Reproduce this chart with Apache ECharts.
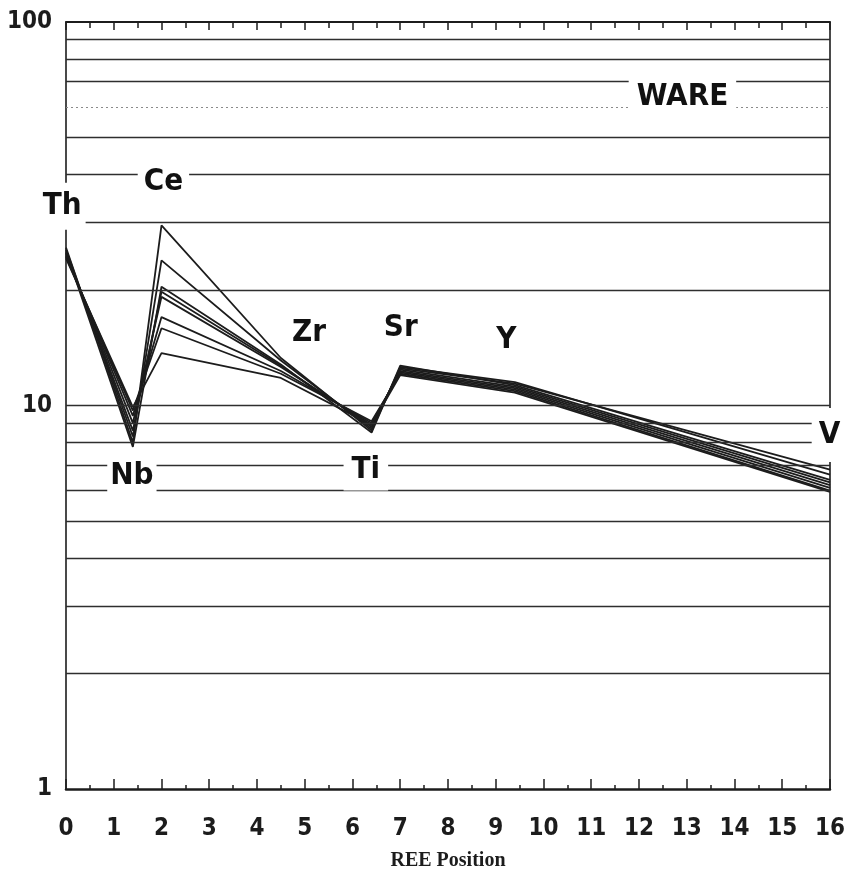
<!DOCTYPE html>
<html>
<head>
<meta charset="utf-8">
<script src="https://cdn.jsdelivr.net/npm/echarts@6/dist/echarts.min.js"></script>
<style>
  html, body { margin: 0; padding: 0; background: #fff; }
  #chart { width: 848px; height: 876px; }
</style>
</head>
<body>
<div id="chart"></div>
<script>
// Element order and their positions along the REE axis
const elements = ['Th', 'Nb', 'Ce', 'Zr', 'Ti', 'Sr', 'Y', 'V'];
const reePositions = [0, 1.4, 2, 4.5, 6.4, 7, 9.4, 16];

// Normalised abundances, one array per sample
const sample1 = [25.8, 8.0, 29.5, 13.3, 8.6, 12.6, 11.5, 6.6];
const sample2 = [25.5, 8.3, 23.9, 13.1, 8.7, 12.5, 11.4, 6.8];
const sample3 = [25.2, 7.8, 20.4, 12.8, 8.5, 12.7, 11.3, 6.4];
const sample4 = [25.0, 8.6, 19.8, 12.7, 8.8, 12.4, 11.2, 6.3];
const sample5 = [24.8, 9.0, 19.2, 12.6, 8.9, 12.3, 11.1, 6.2];
const sample6 = [24.6, 9.4, 17.0, 12.3, 9.0, 12.2, 11.0, 6.1];
const sample7 = [24.4, 9.7, 15.9, 12.1, 9.1, 12.1, 10.9, 6.0];
const sample8 = [24.2, 9.9, 13.7, 11.8, 8.9, 12.0, 10.8, 5.95];
const samples = [sample1, sample2, sample3, sample4, sample5, sample6, sample7, sample8];

// Axis ticks and horizontal rules
const xTickLabels = ['0','1','2','3','4','5','6','7','8','9','10','11','12','13','14','15','16'];
const yTickLabels = [1, 10, 100];
const gridValues = [2, 3, 4, 5, 6, 7, 8, 9, 10, 20, 30, 40, 50, 60, 70, 80, 90];
const faintGridValues = [60];

// Text annotations in data coordinates
const noteText = ['Th', 'Ce', 'WARE', 'Zr', 'Sr', 'Y', 'Nb', 'Ti', 'V'];
const noteX = [-0.08, 2.04, 12.91, 5.09, 7.01, 9.22, 1.38, 6.28, 16.0];
const noteY = [33.1, 38.3, 63.8, 15.5, 15.9, 14.8, 6.55, 6.79, 8.38];

const LABEL_FONT = '"DejaVu Sans Condensed", "Liberation Sans Narrow", "DejaVu Sans", sans-serif';
const TICK_FONT = '"DejaVu Sans Condensed", "Liberation Sans Narrow", sans-serif';
const INK = '#1c1c1c';

// Each annotation's white backing (covers the rules behind it) and padding
const noteBox = {
  Th:   { bg: '#fff', padding: [6, 4, 10, 4] },
  Ce:   { bg: '#fff', padding: [2, 6, 2, 6] },
  WARE: { bg: '#fff', padding: [6, 8, 6, 8] },
  Zr:   { bg: 'transparent', padding: 0 },
  Sr:   { bg: 'transparent', padding: 0 },
  Y:    { bg: 'transparent', padding: 0 },
  Nb:   { bg: '#fff', padding: [4, 3, 4, 3] },
  Ti:   { bg: '#fff', padding: [2, 8, 8, 8] },
  V:    { bg: '#fff', padding: [15, 8, 8, 7] }
};

const chart = echarts.init(document.getElementById('chart'), null, { renderer: 'canvas' });

const sampleSeries = samples.map((vals, i) => ({
  type: 'line',
  name: 'sample ' + (i + 1),
  data: vals.map((v, j) => [reePositions[j], v]),
  symbol: 'none',
  lineStyle: { color: INK, width: 1.8 },
  z: 4,
  silent: true
}));

const ruleSeries = {
  type: 'line',
  data: [],
  silent: true,
  z: 2,
  markLine: {
    silent: true,
    symbol: 'none',
    label: { show: false },
    animation: false,
    data: gridValues.map(v => ({
      yAxis: v,
      lineStyle: faintGridValues.includes(v)
        ? { color: '#8a8a8a', width: 1, type: [2, 3] }
        : { color: '#2e2e2e', width: 1.4, type: 'solid' }
    }))
  }
};

const noteSeries = {
  type: 'scatter',
  clip: false,
  silent: true,
  z: 6,
  symbolSize: 1,
  itemStyle: { color: '#fff', opacity: 0 },
  data: noteText.map((t, i) => ({
    name: t,
    value: [noteX[i], noteY[i]],
    label: {
      show: true,
      position: 'inside',
      formatter: t,
      color: '#111',
      opacity: 1,
      textBorderWidth: 0,
      fontFamily: LABEL_FONT,
      fontWeight: 'bold',
      fontSize: 31,
      lineHeight: 31,
      backgroundColor: noteBox[t].bg,
      padding: noteBox[t].padding
    }
  }))
};

chart.setOption({
  animation: false,
  backgroundColor: '#fff',
  grid: { left: 66, right: 15, top: 22, bottom: 87, containLabel: false },
  xAxis: [
    {
      type: 'value', min: 0, max: 16, interval: 1, position: 'bottom',
      name: 'REE Position', nameLocation: 'middle', nameGap: 62,
      nameTextStyle: { fontFamily: '"Liberation Serif", "DejaVu Serif", serif', fontWeight: 'bold', fontSize: 20, color: INK },
      axisLine: { show: true, onZero: false, lineStyle: { color: INK, width: 2.5 } },
      axisTick: { show: true, inside: true, length: 10, lineStyle: { color: INK, width: 1.5 } },
      minorTick: { show: true, splitNumber: 2, length: 4, lineStyle: { color: INK, width: 1.5 } },
      splitLine: { show: false },
      axisLabel: {
        margin: 28, color: INK, fontFamily: TICK_FONT, fontWeight: 'bold', fontSize: 24,
        formatter: v => xTickLabels[Math.round(v)] ?? ''
      }
    },
    {
      type: 'value', min: 0, max: 16, interval: 1, position: 'top',
      axisLine: { show: true, onZero: false, lineStyle: { color: INK, width: 1.8 } },
      axisTick: { show: true, inside: true, length: 8, lineStyle: { color: INK, width: 1.5 } },
      minorTick: { show: true, splitNumber: 2, length: 6, lineStyle: { color: INK, width: 1.5 } },
      splitLine: { show: false },
      axisLabel: { show: false }
    }
  ],
  yAxis: [
    {
      type: 'log', logBase: 10, min: 1, max: 100, position: 'left',
      axisLine: { show: true, onZero: false, lineStyle: { color: INK, width: 1.6 } },
      axisTick: { show: false },
      minorTick: { show: false },
      splitLine: { show: false },
      axisLabel: {
        margin: 14, color: INK, fontFamily: TICK_FONT, fontWeight: 'bold', fontSize: 24,
        formatter: v => (yTickLabels.includes(Math.round(v)) ? String(Math.round(v)) : '')
      }
    },
    {
      type: 'log', logBase: 10, min: 1, max: 100, position: 'right',
      axisLine: { show: true, onZero: false, lineStyle: { color: INK, width: 1.6 } },
      axisTick: { show: false },
      splitLine: { show: false },
      axisLabel: { show: false }
    }
  ],
  series: [ruleSeries, ...sampleSeries, noteSeries]
});
</script>
</body>
</html>
